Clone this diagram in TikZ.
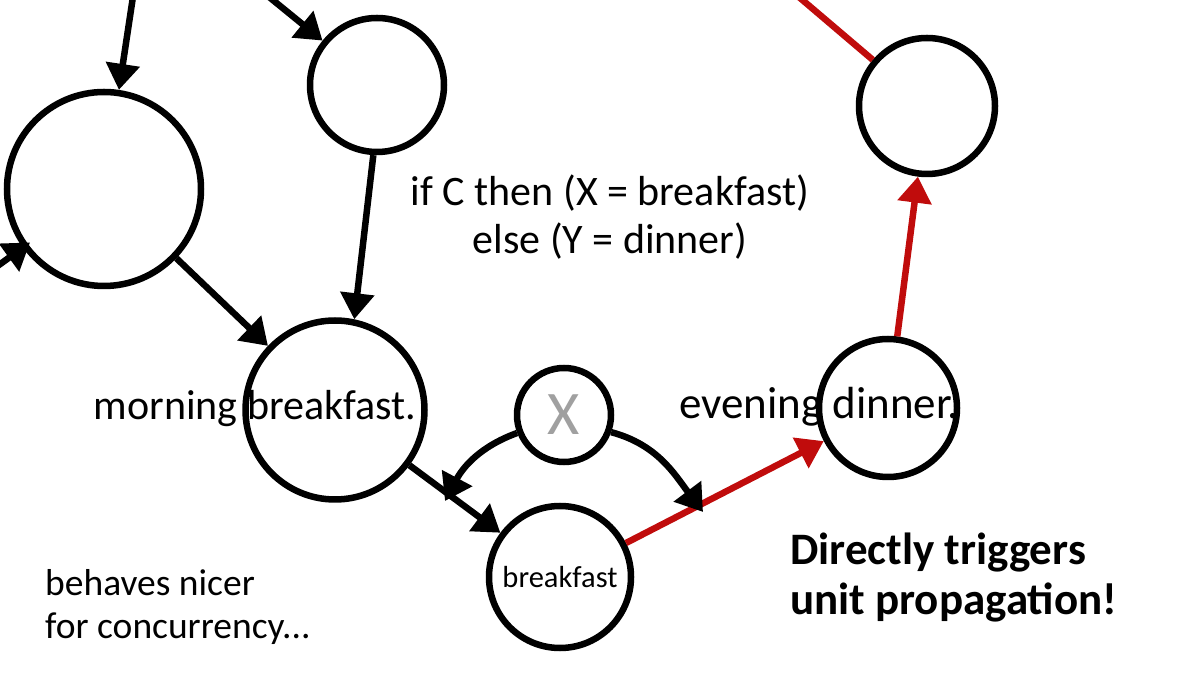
\documentclass[tikz,border=0pt]{standalone}
\usepackage{fontspec}
\setmainfont{Carlito}
\usetikzlibrary{arrows.meta}
\definecolor{myred}{RGB}{192,12,12}
\definecolor{xgray}{RGB}{160,160,160}
\begin{document}
\begin{tikzpicture}[x=1pt,y=1pt,
  nd/.style={circle,draw=black,line width=6.5pt,inner sep=0pt},
  edge/.style={line width=6.5pt,-{Triangle[length=26pt,width=33pt]}},
  redge/.style={edge,draw=myred,fill=myred},
  plain/.style={line width=6.5pt},
  lbl/.style={inner sep=0pt,font=\fontsize{42}{48}\selectfont},
]
\useasboundingbox (0,0) rectangle (1200,675);
\clip (0,0) rectangle (1200,675);

\node[nd,minimum size=194pt] (A) at (104,486) {};
\node[nd,minimum size=134pt] (B) at (377,590) {};
\node[nd,minimum size=136pt] (C) at (927,569) {};
\node[nd,minimum size=179pt] (D) at (335,265) {};
\node[nd,minimum size=94pt] (X) at (564,260) {};
\node[nd,minimum size=142pt] (E) at (560,98) {};
\node[nd,minimum size=138pt] (F) at (888,267) {};

\coordinate (t1) at (134,685);
\coordinate (t2) at (263,683);
\coordinate (t3) at (793,683);
\coordinate (l1) at (-8,405);
\coordinate (p1) at (445,174);
\coordinate (p2) at (703,163);

\draw[edge] (t1) -- (A);
\draw[edge] (t2) -- (B);
\draw[edge,shorten >=-9pt] (l1) -- (A);
\draw[edge] (A) -- (D);
\draw[edge] (B.267) -- (D.78);
\draw[edge] (D) -- (E);
\draw[redge] (E) -- (F);
\draw[redge] (F) -- (C);
\draw[plain,draw=myred] (C) -- (t3);
\draw[edge] (X.201) to[out=200,in=62] (p1);
\draw[edge] (X.340) to[out=-15,in=127] (p2);

\node[lbl,align=center] (cond) at (610,458) {if C then (X = breakfast)\\else (Y = dinner)};
\node[lbl,anchor=base] (mb) at (255,255) {morning breakfast.};
\node[lbl,anchor=base,font=\fontsize{45}{48}\selectfont] (ed) at (819,256) {evening dinner.};
\node[lbl,text=xgray,font=\fontsize{62}{70}\selectfont] (xl) at (X) {X};
\node[lbl,font=\fontsize{30.5}{32}\selectfont] (bl) at (E) {breakfast};
\node[lbl,anchor=west,align=left,font=\bfseries\fontsize{45}{50}\selectfont] (dt) at (790,97) {Directly triggers\\unit propagation!};
\node[lbl,anchor=west,align=left,font=\fontsize{37.5}{43}\selectfont] (bn) at (45,68) {behaves nicer\\for concurrency...};
\end{tikzpicture}
\end{document}
